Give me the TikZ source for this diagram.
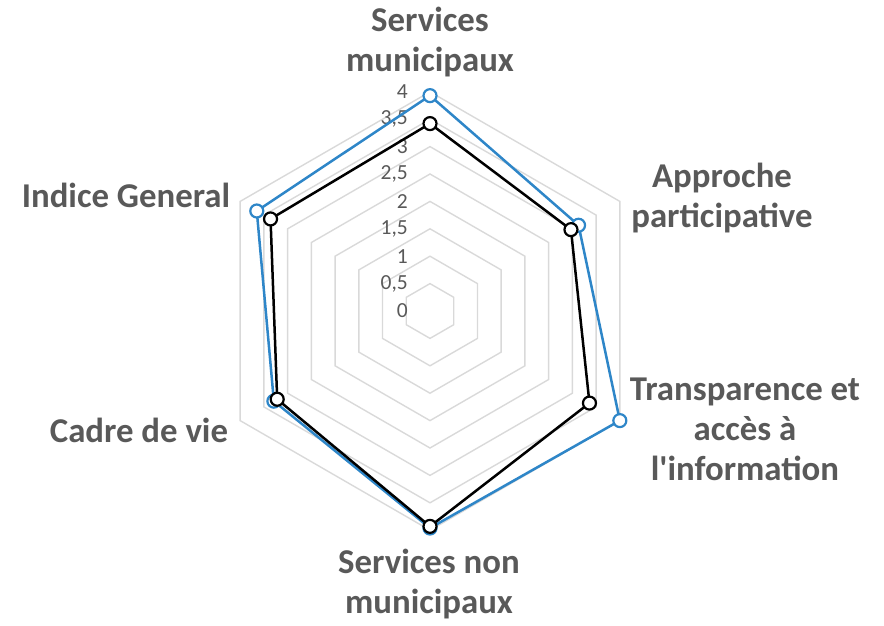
\documentclass[tikz,border=0pt]{standalone}
\usepackage{fontspec}
\setmainfont{Carlito}[Ligatures=TeXOff]
\definecolor{txt}{HTML}{595959}
\definecolor{gridc}{HTML}{D9D9D9}
\definecolor{serblue}{RGB}{46,134,200}
\begin{document}
\begin{tikzpicture}[x=1pt,y=-1pt,
  gridring/.style={draw=gridc,line width=1.4pt,line join=miter},
  tick/.style={anchor=east,inner sep=0pt,text=txt,font=\fontsize{21.5}{24}\selectfont},
  lab/.style={anchor=base,align=center,inner sep=0pt,text=txt,font=\fontsize{34.8}{40}\selectfont\bfseries},
  blueline/.style={draw=serblue,line width=2.5pt,line join=round},
  blackline/.style={draw=black,line width=2.5pt,line join=round},
  bluemark/.style={circle,draw=serblue,fill=white,line width=2.2pt,minimum size=13pt,inner sep=0pt},
  blackmark/.style={circle,draw=black,fill=white,line width=2.2pt,minimum size=13pt,inner sep=0pt}]
\useasboundingbox (0,0) rectangle (884,625);
\def\U{54.8}
\coordinate (O) at (430,311);
\begin{scope}[shift={(O)}]
  % grid rings
  \foreach \r in {0.5,1,...,4}{
    \draw[gridring] (90:{\r*\U pt}) -- (30:{\r*\U pt}) -- (-30:{\r*\U pt}) -- (-90:{\r*\U pt}) -- (210:{\r*\U pt}) -- (150:{\r*\U pt}) -- cycle;
  }
  % tick labels
  \foreach \v/\t [count=\i] in {0/0,0.5/{0,5},1/1,1.5/{1,5},2/2,2.5/{2,5},3/3,3.5/{3,5},4/4}{
    \node[tick] (tk\i) at (-22,{-\v*\U}) {\t};
  }
  % series 1 (blue)
  \coordinate (p1) at (90:{3.93*\U pt});
  \coordinate (p2) at (30:{3.13*\U pt});
  \coordinate (p3) at (-30:{4.0*\U pt});
  \coordinate (p4) at (-90:{3.96*\U pt});
  \coordinate (p5) at (210:{3.29*\U pt});
  \coordinate (p6) at (150:{3.65*\U pt});
  \draw[blueline] (p1) -- (p2) -- (p3) -- (p4) -- (p5) -- (p6) -- cycle;
  \foreach \k in {1,...,6}{ \node[bluemark] (bm\k) at (p\k) {}; }
  % series 2 (black)
  \coordinate (q1) at (90:{3.42*\U pt});
  \coordinate (q2) at (30:{2.97*\U pt});
  \coordinate (q3) at (-30:{3.36*\U pt});
  \coordinate (q4) at (-90:{3.93*\U pt});
  \coordinate (q5) at (210:{3.22*\U pt});
  \coordinate (q6) at (150:{3.36*\U pt});
  \draw[blackline] (q1) -- (q2) -- (q3) -- (q4) -- (q5) -- (q6) -- cycle;
  \foreach \k in {1,...,6}{ \node[blackmark] (km\k) at (q\k) {}; }
\end{scope}
% category labels (base anchor = baseline of the last line)
\node[lab] (l1) at (430,71) {Services\\municipaux};
\node[lab] (l2) at (722,227) {Approche\\participative};
\node[lab] (l3) at (745,480) {Transparence et\\accès à\\l'information};
\node[lab] (l4) at (429,613) {Services non\\municipaux};
\node[lab] (l5) at (139,442) {Cadre de vie};
\node[lab] (l6) at (126,207) {Indice General};
\end{tikzpicture}
\end{document}
